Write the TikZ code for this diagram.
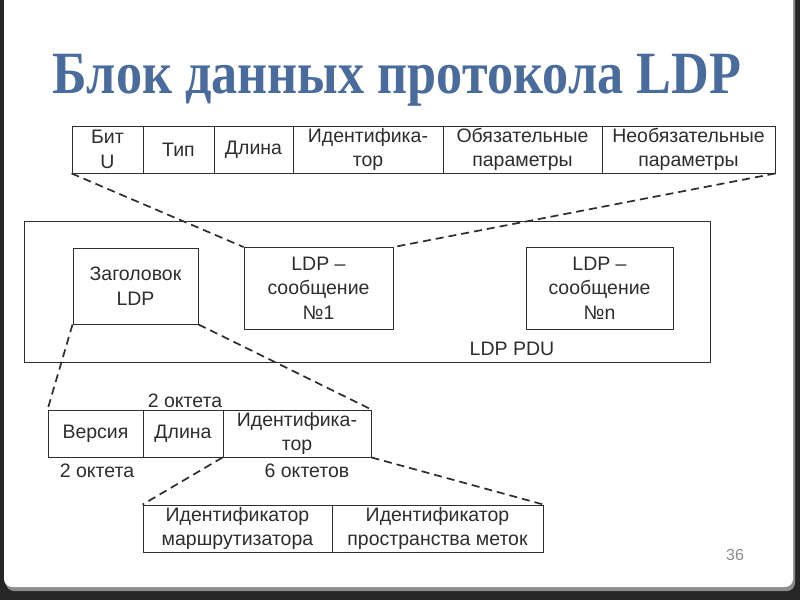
\documentclass[tikz,border=0pt]{standalone}
\usepackage{fontspec}
\setmainfont{Liberation Sans}
\newfontfamily\titlefont{Liberation Serif}
\usetikzlibrary{positioning}
\definecolor{titleblue}{RGB}{74,108,156}
\definecolor{ink}{RGB}{45,45,45}
\begin{document}
\begin{tikzpicture}[x=1pt,y=-1pt,
    cell/.style={draw=ink,line width=0.9pt,text=ink,align=center,inner sep=0pt,
      font=\fontsize{19.5}{24.5}\selectfont},
    lbl/.style={text=ink,inner sep=0pt,font=\fontsize{19.5}{24.5}\selectfont},
    zoomline/.style={draw=ink,line width=1.7pt,dash pattern=on 8pt off 5pt}]
  \useasboundingbox (0,0) rectangle (800,600);
  % slide frame
  \fill[black!85] (0,0) rectangle (800,600);
  \fill[black!45,rounded corners=8] (6,-10) rectangle (795,591);
  \fill[white,rounded corners=8] (4,-10) rectangle (793,587);
  % title
  \node[text=titleblue,inner sep=0pt,font=\titlefont\bfseries\fontsize{60}{62}\selectfont]
    (title) at (397,80) {\scalebox{0.87}[1]{Блок данных протокола LDP}};
  % LDP message
  \node[cell,minimum width=71,minimum height=47] (bit) at (107.5,149.5) {Бит\\U};
  \node[cell,minimum width=71,minimum height=47] (type) at (178.5,149.5) {Тип};
  \node[cell,minimum width=79,minimum height=47] (len) at (253.5,149.5) {Длина};
  \node[cell,minimum width=150,minimum height=47] (msgid) at (368,149.5) {Идентифика-\\тор};
  \node[cell,minimum width=159,minimum height=47] (mand) at (522.5,149.5) {Обязательные\\параметры};
  \node[cell,minimum width=173,minimum height=47] (opt) at (688.5,149.5) {Необязательные\\параметры};
  % LDP PDU
  \node[cell,minimum width=686,minimum height=141] (pdu) at (367.5,291.5) {};
  \node[lbl] (pdulabel) at (512,349) {LDP PDU};
  \node[cell,minimum width=125,minimum height=76] (hdr) at (135.5,286) {Заголовок\\LDP};
  \node[cell,minimum width=149,minimum height=81.5] (msg1) at (318.5,288.25) {LDP –\\сообщение\\№1};
  \node[cell,minimum width=147,minimum height=81.5] (msgn) at (599.5,288.25) {LDP –\\сообщение\\№n};
  % LDP header
  \node[cell,minimum width=95,minimum height=47] (ver) at (95.5,433.5) {Версия};
  \node[cell,minimum width=80,minimum height=47] (hlen) at (183,433.5) {Длина};
  \node[cell,minimum width=148,minimum height=47] (hid) at (297,433.5) {Идентифика-\\тор};
  \node[lbl] (oct1) at (185,401) {2 октета};
  \node[lbl] (oct2) at (97,471) {2 октета};
  \node[lbl] (oct6) at (307,471) {6 октетов};
  % identifier
  \node[cell,minimum width=189,minimum height=47] (rid) at (237.5,528.5) {Идентификатор\\маршрутизатора};
  \node[cell,minimum width=211,minimum height=47] (lsid) at (437.5,528.5) {Идентификатор\\пространства меток};
  \node[text=black!45,inner sep=0pt,font=\fontsize{16}{16}\selectfont] (page) at (735,555) {36};
  % dashed lines
  \draw[zoomline] (bit.south west) -- (msg1.north west);
  \draw[zoomline] (opt.south east) -- (msg1.north east);
  \draw[zoomline] (hdr.south west) -- (ver.north west);
  \draw[zoomline] (hdr.south east) -- (hid.north east);
  \draw[zoomline] (hid.south west) -- (rid.north west);
  \draw[zoomline] (hid.south east) -- (lsid.north east);
\end{tikzpicture}
\end{document}
